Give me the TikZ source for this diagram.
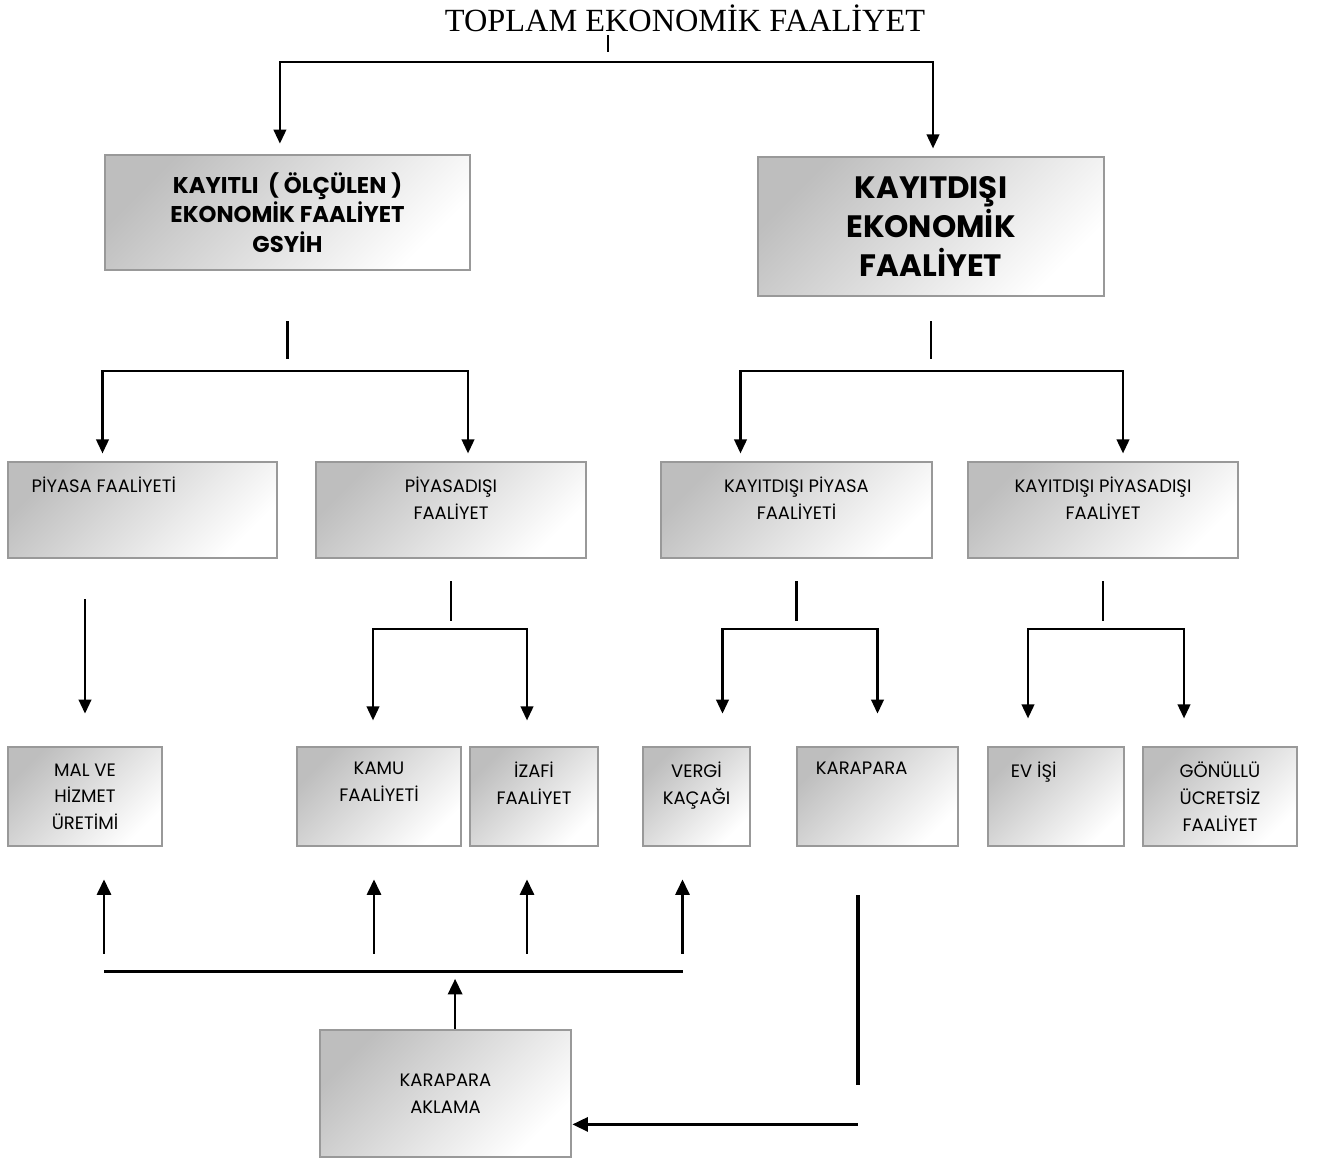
\documentclass[tikz,border=0pt]{standalone}
\usepackage{fontspec}
\setmainfont{Liberation Serif}
\newfontfamily\boxfont{Poppins}
\usetikzlibrary{arrows.meta,positioning,calc}
\definecolor{boxgray}{RGB}{153,153,153}
\definecolor{shadegray}{RGB}{190,190,190}
\tikzset{
  box/.style={rectangle, draw=boxgray, line width=2pt, top color=shadegray,
              bottom color=white, shading angle=45, align=center, inner sep=0pt,
              font=\boxfont\fontsize{12.8}{19}\selectfont},
  mainbox/.style={box, font=\boxfont\bfseries\fontsize{16.2}{21}\selectfont},
  bigbox/.style={box, font=\boxfont\bfseries\fontsize{22}{28}\selectfont},
  toptext/.style={anchor=north, yshift=-0.4cm, inner sep=0pt, align=center,
                  font=\boxfont\fontsize{12.8}{19}\selectfont},
  lefttext/.style={toptext, anchor=north west},
  title/.style={font=\fontsize{23}{27}\selectfont, inner sep=0pt},
  link/.style={line width=1.5pt},
  thicklink/.style={line width=2.6pt},
  arrow/.style={link, -{Triangle[width=9pt,length=10pt]}},
  thickarrow/.style={line width=1.9pt, -{Triangle[width=10pt,length=11pt]}}
}
\begin{document}
\begin{tikzpicture}
\useasboundingbox (0,0) rectangle (33.025,-29.05);

% title and first split
\node[title] (total) at (17.125,-0.45) {TOPLAM EKONOMİK FAALİYET};
\coordinate (topbar) at (15.2,-1.55);

\node[mainbox, minimum width=9.125cm, minimum height=2.875cm] (kayitli) at (7.1875,-5.3125)
  {KAYITLI\ \ ( ÖLÇÜLEN )\\EKONOMİK FAALİYET\\GSYİH};
\node[bigbox, minimum width=8.65cm, minimum height=3.475cm] (kayitdisi) at (23.275,-5.6625)
  {KAYITDIŞI\\EKONOMİK\\FAALİYET};

\draw[link] ([yshift=0.25cm]topbar) -- ++(0,0.43);
\draw[arrow, shorten >=0.25cm] (topbar) -| ([xshift=-0.19cm]kayitli.north);
\draw[arrow, shorten >=0.18cm] (topbar) -| ([xshift=0.05cm]kayitdisi.north);

% second level
\node[box, minimum width=6.725cm, minimum height=2.4cm,
      label={[lefttext, xshift=0.62cm]north west:PİYASA FAALİYETİ}] (piyasa) at (3.5625,-12.75) {};
\node[box, minimum width=6.75cm, minimum height=2.4cm,
      label={[toptext]north:PİYASADIŞI\\FAALİYET}] (piyasadisi) at (11.275,-12.75) {};
\node[box, minimum width=6.775cm, minimum height=2.4cm,
      label={[toptext]north:KAYITDIŞI PİYASA\\FAALİYETİ}] (kdpiyasa) at (19.9125,-12.75) {};
\node[box, minimum width=6.75cm, minimum height=2.4cm,
      label={[toptext]north:KAYITDIŞI PİYASADIŞI\\FAALİYET}] (kdpiyasadisi) at (27.575,-12.75) {};

\coordinate (lbar) at ([yshift=-2.5cm]kayitli.south);
\coordinate (rbar) at ([yshift=-1.85cm]kayitdisi.south);
\draw[link] ([yshift=-1.25cm]kayitli.south) -- ++(0,-0.95);
\draw[link] ([yshift=-0.6cm]kayitdisi.south) -- ++(0,-0.95);
\draw[arrow, shorten >=0.18cm] (lbar) -| ([xshift=-1cm]piyasa.north);
\draw[arrow, shorten >=0.18cm] (lbar) -| ([xshift=0.425cm]piyasadisi.north);
\draw[arrow, shorten >=0.18cm] (rbar) -| ([xshift=-1.4cm]kdpiyasa.north);
\draw[arrow, shorten >=0.18cm] (rbar) -| ([xshift=0.5cm]kdpiyasadisi.north);

% third level
\node[box, minimum width=3.85cm, minimum height=2.475cm] (malhizmet) at (2.125,-19.9125)
  {MAL VE\\HİZMET\\ÜRETİMİ};
\node[box, minimum width=4.1cm, minimum height=2.475cm,
      label={[toptext]north:KAMU\\FAALİYETİ}] (kamu) at (9.475,-19.9125) {};
\node[box, minimum width=3.2cm, minimum height=2.475cm,
      label={[toptext]north:İZAFİ\\FAALİYET}] (izafi) at (13.35,-19.9125) {};
\node[box, minimum width=2.675cm, minimum height=2.475cm,
      label={[toptext]north:VERGİ\\KAÇAĞI}] (vergi) at (17.4125,-19.9125) {};
\node[box, minimum width=4.025cm, minimum height=2.475cm,
      label={[lefttext, xshift=0.5cm]north west:KARAPARA}] (karapara) at (21.9375,-19.9125) {};
\node[box, minimum width=3.4cm, minimum height=2.475cm,
      label={[lefttext, xshift=0.6cm]north west:EV İŞİ}] (evisi) at (26.4,-19.9125) {};
\node[box, minimum width=3.85cm, minimum height=2.475cm] (gonullu) at (30.5,-19.9125)
  {GÖNÜLLÜ\\ÜCRETSİZ\\FAALİYET};

\draw[arrow, shorten <=1cm, shorten >=0.8cm] (piyasa.south -| malhizmet.north) -- (malhizmet.north);
\foreach \n in {piyasadisi, kdpiyasa, kdpiyasadisi}
  \draw[link] ([yshift=-0.55cm]\n.south) -- ++(0,-1);
\coordinate (pdbar) at ([yshift=-1.75cm]piyasadisi.south);
\coordinate (kpbar) at ([yshift=-1.75cm]kdpiyasa.south);
\coordinate (kpdbar) at ([yshift=-1.75cm]kdpiyasadisi.south);
\draw[arrow, shorten >=0.63cm] (pdbar) -| ([xshift=-0.15cm]kamu.north);
\draw[arrow, shorten >=0.63cm] (pdbar) -| ([xshift=-0.175cm]izafi.north);
\draw[arrow, shorten >=0.8cm] (kpbar) -| ([xshift=0.65cm]vergi.north);
\draw[arrow, shorten >=0.8cm] (kpbar) -| (karapara.north);
\draw[arrow, shorten >=0.68cm] (kpdbar) -| ([xshift=-0.7cm]evisi.north);
\draw[arrow, shorten >=0.68cm] (kpdbar) -| ([xshift=-0.9cm]gonullu.north);

% laundering
\node[box, minimum width=6.275cm, minimum height=3.175cm] (aklama) at (11.1375,-27.3375)
  {KARAPARA\\AKLAMA};
\coordinate (bbar) at ([xshift=0.24cm, yshift=1.425cm]aklama.north);
\draw[thicklink] ([xshift=0.475cm]malhizmet.south |- bbar) -- ([xshift=-0.35cm]vergi.south |- bbar);
\draw[thickarrow, shorten >=0.18cm] ([xshift=0.24cm]aklama.north) -- (bbar);
\foreach \n/\dx in {malhizmet/0.475, kamu/-0.125, izafi/-0.175, vergi/-0.35}
  \draw[thickarrow, shorten <=0.45cm, shorten >=0.8cm]
    ([xshift=\dx cm]\n.south |- bbar) -- ([xshift=\dx cm]\n.south);

\coordinate (kptop) at ([xshift=-0.49cm, yshift=-1.2cm]karapara.south);
\coordinate (kpend) at ([yshift=-5.725cm]kptop);
\draw[thicklink] (kptop) -- ++(0,-4.75);
\draw[thickarrow] (kpend) -- (kpend -| aklama.east);
\end{tikzpicture}
\end{document}
